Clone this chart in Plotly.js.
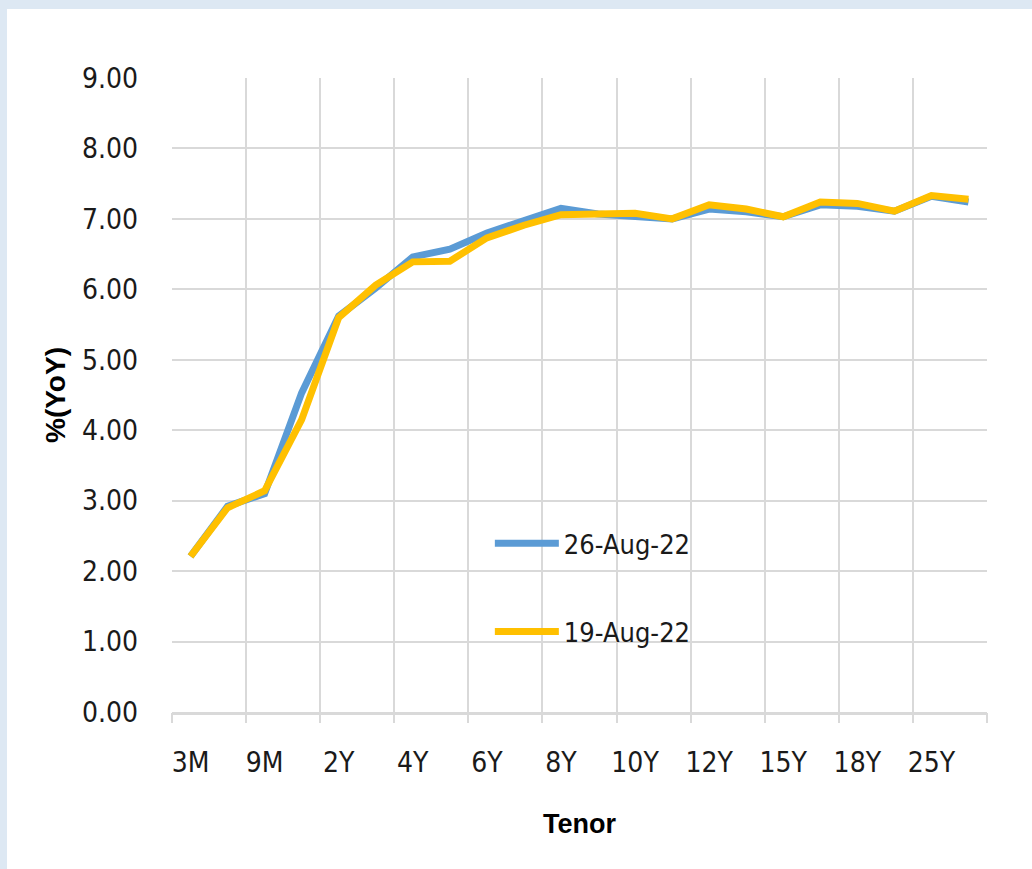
<!DOCTYPE html>
<html>
<head>
<meta charset="utf-8">
<script src="https://cdn.plot.ly/plotly-3.0.1.min.js"></script>
<style>
  html, body { margin: 0; padding: 0; background: #dde8f3; width: 1032px; height: 869px; overflow: hidden; }
  #chart { position: absolute; left: 7px; top: 9px; width: 1025px; height: 860px; background: #ffffff; }
  #chart .xtick text, #chart .ytick text, #chart .legendtext { font-stretch: condensed !important; }
</style>
</head>
<body>
<div id="chart"></div>
<script>
// Yield curve by tenor, two weekly snapshots
const tenors = ["3M","6M","9M","1Y","2Y","3Y","4Y","5Y","6Y","7Y","8Y","9Y","10Y","11Y","12Y","13Y","15Y","16Y","18Y","20Y","25Y","30Y"];
const aug26 = [2.21,2.92,3.10,4.53,5.62,6.02,6.46,6.57,6.80,6.97,7.15,7.07,7.04,7.00,7.14,7.10,7.03,7.20,7.18,7.11,7.32,7.24];
const aug19 = [2.21,2.90,3.14,4.15,5.60,6.06,6.39,6.40,6.73,6.91,7.06,7.08,7.08,7.00,7.20,7.14,7.03,7.24,7.22,7.11,7.33,7.28];
const seriesNames = ["26-Aug-22", "19-Aug-22"];
const labelledTenors = ["3M","9M","2Y","4Y","6Y","8Y","10Y","12Y","15Y","18Y","25Y"];

const narrow = '"DejaVu Sans Condensed", "DejaVu Sans", sans-serif';
const bold = '"Liberation Sans", Arial, sans-serif';
const grid = '#d9d9d9';

// Category boundaries: left edge of every labelled category plus the far right edge
const catRange = [-0.5, tenors.length - 0.5];
const boundaries = labelledTenors.map(t => tenors.indexOf(t) - 0.5).concat([tenors.length - 0.5]);

const traces = [
  // empty helper so the boundary grid axis gets drawn
  { x: catRange, y: [null, null], xaxis: 'x2', yaxis: 'y', type: 'scatter', mode: 'lines',
    showlegend: false, hoverinfo: 'skip', line: { width: 0 } },
  { x: tenors, y: aug26, name: seriesNames[0], type: 'scatter', mode: 'lines',
    line: { color: '#5b9bd5', width: 7 }, legendgroup: 'a' },
  { x: tenors, y: aug19, name: seriesNames[1], type: 'scatter', mode: 'lines',
    line: { color: '#ffc000', width: 7 }, legendgroup: 'b' }
];

const layout = {
  width: 1025, height: 860,
  margin: { l: 165, r: 45, t: 69, b: 157 },
  paper_bgcolor: '#ffffff', plot_bgcolor: '#ffffff',
  font: { family: narrow, size: 27, color: '#1a1a1a' },
  showlegend: true,
  legend: {
    x: 0.39, y: 0.304, xanchor: 'left', yanchor: 'top',
    bgcolor: 'rgba(0,0,0,0)', font: { family: narrow, size: 27, color: '#1a1a1a' },
    tracegroupgap: 50, itemwidth: 64
  },
  xaxis: {
    type: 'category', range: catRange,
    tickmode: 'array', tickvals: labelledTenors, ticktext: labelledTenors,
    tickangle: 0, ticks: '', showgrid: false,
    showline: true, linecolor: grid, linewidth: 3,
    ticklabelstandoff: 23,
    tickfont: { family: narrow, size: 28, color: '#1a1a1a' },
    zeroline: false,
    title: { text: 'Tenor', font: { family: bold, size: 27, color: '#000000', weight: 'bold' }, standoff: 37 }
  },
  // Grid and tick marks on the category boundaries
  xaxis2: {
    overlaying: 'x', anchor: 'y', side: 'bottom', type: 'linear', range: catRange,
    tickmode: 'array', tickvals: boundaries, showticklabels: false,
    showgrid: true, gridcolor: grid, gridwidth: 2,
    ticks: 'outside', ticklen: 10, tickwidth: 2, tickcolor: grid,
    showline: false, zeroline: false
  },
  yaxis: {
    range: [0, 9], dtick: 1, tickformat: '.2f',
    showgrid: true, gridcolor: grid, gridwidth: 2,
    showline: false, zeroline: false, ticks: '',
    ticklabelstandoff: 33,
    tickfont: { family: narrow, size: 28, color: '#1a1a1a' },
    title: { text: '%(YoY)', font: { family: bold, size: 28, color: '#000000', weight: 'bold' }, standoff: 8 }
  }
};

Plotly.newPlot('chart', traces, layout, { displayModeBar: false, staticPlot: true });
</script>
</body>
</html>
